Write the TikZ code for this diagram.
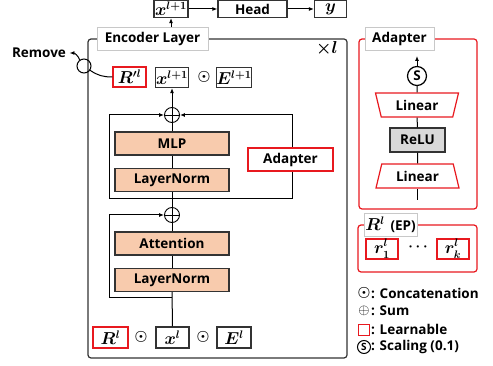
\documentclass[tikz,border=0pt]{standalone}
\usepackage[no-math]{fontspec}
\setmainfont{Open Sans}
\usetikzlibrary{shapes.geometric, arrows.meta, positioning}
\definecolor{peach}{HTML}{F8CBAD}
\definecolor{redline}{HTML}{E8191F}
\definecolor{darkline}{HTML}{333333}
\definecolor{relugray}{HTML}{D9D9D9}
\definecolor{tagline}{HTML}{C8C8C8}

\begin{document}
\begin{tikzpicture}[x=1pt,y=-1pt,
  txt/.style={font=\fontsize{13.5}{15}\selectfont\bfseries\boldmath},
  mth/.style={font=\fontsize{16}{16}\selectfont\boldmath},
  blk/.style={txt, draw=darkline, line width=1.2pt, fill=peach, minimum width=114pt, minimum height=23pt, inner sep=0pt},
  vbox/.style={txt, draw=darkline, line width=1.2pt, fill=white, minimum width=33pt, minimum height=20pt, inner sep=0pt},
  lrn/.style={vbox, draw=redline},
  tag/.style={txt, draw=tagline, line width=0.6pt, fill=white, inner sep=0pt, minimum height=23pt},
  sum/.style={circle, draw, line width=0.9pt, minimum size=15pt, inner sep=0pt,
    path picture={\draw[line width=0.9pt] (path picture bounding box.north) -- (path picture bounding box.south)
      (path picture bounding box.west) -- (path picture bounding box.east);}},
  cat/.style={font=\fontsize{15}{15}\selectfont\boldmath, inner sep=0pt},
  trap/.style={txt, trapezium, draw=redline, line width=1.2pt, fill=white, trapezium angle=61,
    minimum width=83pt, minimum height=24pt, trapezium stretches body, inner sep=0pt},
  scl/.style={txt, circle, draw, line width=1.2pt, minimum size=19pt, inner sep=0pt},
  arr/.style={-{Latex[length=5pt,width=4pt]}, line width=1pt},
  ln/.style={line width=1pt}]
\useasboundingbox (0,0) rectangle (493,366);

% output row
\node[vbox, mth, minimum width=34pt, minimum height=17pt] (xout) at (171,9) {$x^{l+1}$};
\node[vbox, minimum width=69pt, minimum height=17pt] (head) at (252.5,9) {Head};
\node[vbox, mth, minimum width=32pt, minimum height=17pt] (yout) at (330.5,9) {$y$};
\draw[arr] (xout) -- (head);
\draw[arr] (head) -- (yout);

% encoder layer
\draw[darkline, line width=1.2pt, rounded corners=3pt] (88,39) rectangle (347,358);
\node[tag, minimum width=111pt] (enc) at (152.5,39) {Encoder Layer};
\draw[arr] (enc.north -| xout) -- (xout.south);
\node[mth] (times) at (327,49) {$\times l$};

% kept tokens after the layer
\node[lrn, mth] (rprime) at (129.5,77) {$R'^{l}$};
\node[vbox, mth] (xnext) at (172,77.5) {$x^{l+1}$};
\node[cat] (cattop) at (204,77) {$\odot$};
\node[vbox, mth] (enext) at (234,77.5) {$E^{l+1}$};

% remove prompts
\node[txt] (remove) at (39,53) {Remove};
\node[circle, draw, line width=1pt, minimum size=14pt, inner sep=0pt] (loop) at (84,66) {};
\draw[ln] (rprime.west) to[out=180,in=-35] (loop.-35);
\draw[arr] (loop.125) to[out=110,in=0] (remove.east);

% MLP branch
\node[sum] (sumtop) at (172,115) {};
\draw[arr] (sumtop) -- (xnext);
\node[blk] (mlp) at (172,143.5) {MLP};
\node[blk] (ln2) at (172,180) {LayerNorm};
\node[sum] (sumbot) at (172,215) {};
\coordinate (jmlp) at (172,199);
\draw[ln] (sumbot) -- (ln2);
\draw[ln] (ln2) -- (mlp);
\draw[ln] (mlp) -- (sumtop);
\draw[arr] (jmlp) -- ++(-63,0) |- (sumtop.west);
\draw[arr] (jmlp) -- ++(120,0) |- (sumtop.east);
\node[tag, draw=redline, line width=1.3pt, minimum width=85pt] (adp) at (290.5,159.5) {Adapter};

% attention branch
\node[blk] (attn) at (172,243.5) {Attention};
\node[blk] (ln1) at (172,280) {LayerNorm};
\coordinate (jattn) at (172,298);
\draw[ln] (ln1) -- (attn);
\draw[ln] (attn) -- (sumbot);
\draw[arr] (jattn) -- ++(-63,0) |- (sumbot.west);

% input tokens
\node[lrn, mth, minimum width=35pt, minimum height=21pt] (rin) at (110.5,337.5) {$R^{l}$};
\node[cat] (catone) at (141,337) {$\odot$};
\node[vbox, mth, minimum height=21pt] (xin) at (172.5,337.5) {$x^{l}$};
\node[cat] (cattwo) at (203,337) {$\odot$};
\node[vbox, mth, minimum width=34pt, minimum height=21pt] (ein) at (234,337.5) {$E^{l}$};
\draw[ln] (xin) -- (ln1);

% adapter detail
\draw[redline, line width=1.2pt, rounded corners=3pt] (359,39) rectangle (477,209);
\node[tag, minimum width=69pt] (adptag) at (399.5,38.5) {Adapter};
\node[scl] (scale) at (417,76) {S};
\coordinate (adpout) at (417,56);
\node[trap, shape border rotate=180] (up) at (417,105) {Linear};
\node[vbox, fill=relugray, minimum width=55pt, minimum height=24pt] (relu) at (417.5,140) {ReLU};
\node[trap] (down) at (417.5,176) {Linear};
\coordinate (adpin) at (417.5,200);
\draw[ln] (adpin) -- (down);
\draw[ln] (down) -- (relu);
\draw[ln] (relu) -- (up);
\draw[ln] (up) -- (scale);
\draw[arr] (scale) -- (adpout);

% prompts
\draw[redline, line width=1.2pt, rounded corners=3pt] (358,225) rectangle (477,272);
\node[tag, minimum width=53pt] (eptag) at (390.5,224.5) {{\fontsize{16}{16}\selectfont$R^{l}$}\, (EP)};
\node[lrn, mth, minimum width=32pt] (rone) at (382,249) {$r^{l}_{1}$};
\node[txt] (rdots) at (418,247) {$\cdots$};
\node[lrn, mth, minimum width=32pt] (rk) at (453,249) {$r^{l}_{k}$};

% legend
\node[cat] (lgcat) at (364,293) {$\odot$};
\node[txt, anchor=west, inner sep=0pt] at (371,293) {: Concatenation};
\node[font=\fontsize{15}{15}\selectfont, inner sep=0pt] (lgsum) at (364,311) {$\oplus$};
\node[txt, anchor=west, inner sep=0pt] at (371,311) {: Sum};
\node[draw=redline, line width=1.3pt, minimum size=11pt, inner sep=0pt] (lglrn) at (364,330) {};
\node[txt, anchor=west, inner sep=0pt] at (371,329) {: Learnable};
\node[scl, minimum size=13pt, line width=1pt, font=\fontsize{10}{10}\selectfont\bfseries] (lgscl) at (364,347) {S};
\node[txt, anchor=west, inner sep=0pt] at (371,347) {: Scaling (0.1)};
\end{tikzpicture}
\end{document}
